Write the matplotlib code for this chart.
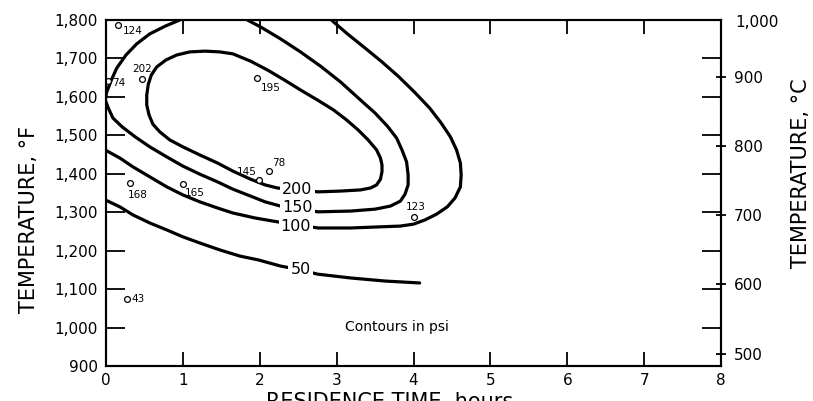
import matplotlib
matplotlib.use("Agg")
import matplotlib.pyplot as plt

# contour lines: residence time (hours) vs temperature (deg F)
c200_t = [2.49, 2.76, 3.05, 3.31, 3.44, 3.52, 3.57, 3.59, 3.59, 3.57, 3.52, 3.41, 3.28, 3.13, 2.96,
          2.75, 2.53, 2.32, 2.10, 1.88, 1.65, 1.48, 1.29, 1.09, 0.92, 0.78, 0.66, 0.59, 0.55, 0.53,
          0.53, 0.56, 0.61, 0.70, 0.83, 1.00, 1.22, 1.45, 1.65, 1.88, 2.07, 2.23, 2.49]
c200_f = [1358, 1353, 1355, 1358, 1363, 1371, 1386, 1405, 1423, 1441, 1462, 1488, 1514, 1540, 1566,
          1592, 1618, 1644, 1670, 1693, 1712, 1717, 1719, 1717, 1709, 1696, 1678, 1657, 1633, 1605,
          1579, 1553, 1529, 1509, 1488, 1470, 1449, 1428, 1407, 1386, 1371, 1363, 1358]

c150_t = [1.09, 0.96, 0.77, 0.57, 0.40, 0.26, 0.14, 0.07, 0.01, -0.01, 0.03, 0.09, 0.21, 0.38, 0.57,
          0.79, 1.00, 1.22, 1.45, 1.65, 1.88, 2.07, 2.27, 2.49, 2.76, 3.18, 3.50, 3.70, 3.83, 3.89,
          3.93, 3.93, 3.91, 3.85, 3.78, 3.66, 3.50, 3.31, 3.05, 2.79, 2.53, 2.27, 2.01, 1.84, 1.74]
c150_f = [1813, 1800, 1784, 1764, 1738, 1709, 1675, 1644, 1613, 1592, 1571, 1545, 1522, 1496, 1470,
          1444, 1420, 1399, 1379, 1360, 1342, 1327, 1316, 1308, 1301, 1303, 1308, 1316, 1329, 1347,
          1371, 1397, 1431, 1462, 1493, 1524, 1558, 1592, 1639, 1680, 1717, 1751, 1782, 1800, 1813]

c100_t = [-0.03, 0.18, 0.35, 0.57, 0.79, 1.00, 1.22, 1.45, 1.65, 1.94, 2.23, 2.49, 2.76, 3.18, 3.57,
          3.83, 4.00, 4.15, 4.30, 4.44, 4.54, 4.61, 4.62, 4.61, 4.56, 4.48, 4.36, 4.21, 4.01, 3.80,
          3.59, 3.37, 3.14, 2.96, 2.86]
c100_f = [1464, 1441, 1418, 1392, 1366, 1345, 1327, 1311, 1298, 1285, 1275, 1267, 1259, 1259, 1262,
          1264, 1269, 1280, 1295, 1314, 1337, 1366, 1397, 1428, 1462, 1496, 1532, 1571, 1613, 1654,
          1691, 1727, 1764, 1795, 1813]

c50_t = [-0.03, 0.18, 0.35, 0.57, 0.79, 1.00, 1.22, 1.48, 1.74, 1.98, 2.27, 2.53, 2.75, 3.18, 3.63, 4.08]
c50_f = [1334, 1314, 1293, 1272, 1254, 1236, 1220, 1202, 1186, 1176, 1160, 1150, 1139, 1129, 1121, 1116]

contour_vals = ["200", "150", "100", "50"]
label_t = [2.49, 2.49, 2.47, 2.53]
label_f = [1358, 1311, 1264, 1150]

# individual runs (strength, psi)
pt_t = [0.16, 0.47, 0.03, 1.97, 0.31, 1.00, 1.99, 2.12, 4.00, 0.27]
pt_f = [1787, 1646, 1641, 1649, 1376, 1373, 1384, 1407, 1288, 1074]
pt_val = ["124", "202", "74", "195", "168", "165", "145", "78", "123", "43"]

x_ticks = [0, 1, 2, 3, 4, 5, 6, 7, 8]
f_ticks = [900, 1000, 1100, 1200, 1300, 1400, 1500, 1600, 1700, 1800]
c_ticks = [500, 600, 700, 800, 900]

# where each run's number sits relative to its circle (points) and alignment
pt_offsets = [(3.6, -4.3), (0, 7.5), (2.9, -1.4), (2.2, -7.2), (-1.4, -8.6),
              (1.4, -6.5), (-1.4, 5.8), (2.2, 5.8), (1.4, 6.8), (3.6, 0)]
pt_ha = ["left", "center", "left", "left", "left", "left", "right", "left", "center", "left"]

fig = plt.figure(figsize=(8.13, 4.01), dpi=100)
ax = fig.add_axes([106 / 813, 35 / 401, 615 / 813, 346 / 401])
ax.set_xlim(0, 8)
ax.set_ylim(900, 1800)

line_kw = dict(color="black", lw=2.3, solid_capstyle="round", solid_joinstyle="round", zorder=2)
for t, f in [(c200_t, c200_f), (c150_t, c150_f), (c100_t, c100_f), (c50_t, c50_f)]:
    ax.plot(t, f, **line_kw)

for lab, t, f in zip(contour_vals, label_t, label_f):
    ax.text(t, f, lab, ha="center", va="center", fontsize=11.5, zorder=4,
            bbox=dict(boxstyle="square,pad=0.12", fc="white", ec="none"))

ax.plot(pt_t, pt_f, "o", ms=4.2, mfc="white", mec="black", mew=0.9, zorder=5)
for t, f, v, off, ha in zip(pt_t, pt_f, pt_val, pt_offsets, pt_ha):
    ax.annotate(v, (t, f), xytext=off, textcoords="offset points",
                ha=ha, va="center", fontsize=7.5)

ax.text(3.79, 1001, "Contours in psi", ha="center", va="center", fontsize=10)

for s in ax.spines.values():
    s.set_linewidth(1.5)

ax.set_xticks(x_ticks)
ax.set_xticklabels([str(v) for v in x_ticks])
ax.set_yticks(f_ticks)
ax.set_yticklabels(["{:,}".format(v) for v in f_ticks])

# Celsius scale on the right
ax2 = ax.twinx()
ax2.set_ylim((900 - 32) * 5 / 9, (1800 - 32) * 5 / 9)
ax2.set_yticks(c_ticks)
ax2.set_yticklabels([str(v) for v in c_ticks])
ax2.tick_params(axis="y", direction="inout", length=7, width=1.3, labelsize=11, pad=6)
for s in ax2.spines.values():
    s.set_linewidth(1.5)
ax2.annotate("1,000", (1, 1), xycoords="axes fraction", xytext=(10, -1.5),
             textcoords="offset points", ha="left", va="center", fontsize=11)

# Fahrenheit ticks run along both sides (twinx turns the right ones off)
ax.tick_params(axis="x", direction="in", length=10, width=1.3, top=True, labelsize=11, pad=5)
ax.tick_params(axis="y", direction="in", length=14, width=1.3, left=True, right=True,
               labelleft=True, labelright=False, labelsize=11, pad=6)

fig.text(29 / 813, (401 - 219) / 401, "TEMPERATURE, °F", rotation=90,
         ha="center", va="center", fontsize=15)
fig.text(801 / 813, (401 - 173) / 401, "TEMPERATURE, °C", rotation=90,
         ha="center", va="center", fontsize=15)
fig.text(390 / 813, -7 / 401, "RESIDENCE TIME, hours", ha="center", va="baseline", fontsize=15)

fig.savefig("out.png", dpi=100)
